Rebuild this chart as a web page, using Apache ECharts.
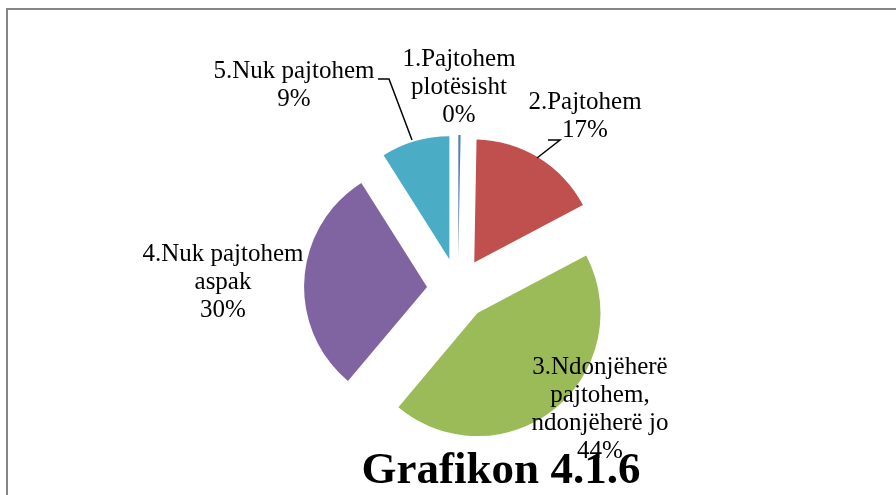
<!DOCTYPE html>
<html>
<head>
<meta charset="utf-8">
<script src="https://cdn.jsdelivr.net/npm/echarts@6/dist/echarts.min.js"></script>
<style>
html,body{margin:0;padding:0;background:#fff;}
#c{width:896px;height:495px;}
</style>
</head>
<body>
<div id="c"></div>
<script>
const categories = ['1.Pajtohem\nplotësisht', '2.Pajtohem', '3.Ndonjëherë\npajtohem,\nndonjëherë jo', '4.Nuk pajtohem\naspak', '5.Nuk pajtohem'];
const values = [0.3, 17, 44, 30, 9];
const colors = ['#4F81BD', '#C0504D', '#9BBB59', '#8064A2', '#4BACC6'];
const title = 'Grafikon 4.1.6';

// label centre positions (layout only)
const labelPos = [[459, 87], [585, 116], [600, 409], [223, 282], [294, 85]];
const leaderLines = [
  [[548, 140], [560, 140], [537, 158]],
  [[378, 79], [389, 79], [412, 140]]
];

const total = values.reduce((a, b) => a + b, 0);
const chart = echarts.init(document.getElementById('c'), null, {renderer: 'canvas'});
const data = categories.map((n, i) => ({
  name: n, value: values[i], selected: true,
  itemStyle: {color: colors[i]}
}));

const labelTexts = categories.map((n, i) => ({
  type: 'text', silent: true, z: 10,
  x: labelPos[i][0], y: labelPos[i][1],
  style: {
    text: n + '\n' + Math.round(values[i] / total * 100) + '%',
    fontFamily: 'Liberation Serif', fontSize: 25, lineHeight: 28,
    fill: '#000', align: 'center', verticalAlign: 'middle'
  }
}));
const lines = leaderLines.map(pts => ({
  type: 'polyline', silent: true, z: 10,
  shape: {points: pts},
  style: {stroke: '#000', lineWidth: 1.5, fill: 'none'}
}));

chart.setOption({
  animation: false,
  title: {
    text: title, left: 496, top: 444, textAlign: 'center',
    textStyle: {fontFamily: 'Liberation Serif', fontWeight: 'bold', fontSize: 45, color: '#000'}
  },
  graphic: [{
    type: 'rect', silent: true, z: -1,
    shape: {x: 7, y: 9, width: 1000, height: 600},
    style: {fill: 'none', stroke: '#868686', lineWidth: 2}
  }].concat(lines, labelTexts),
  series: [{
    type: 'pie',
    center: [458, 289],
    radius: [0, 123],
    startAngle: 90,
    clockwise: true,
    selectedMode: 'multiple',
    selectedOffset: 31,
    emphasis: {disabled: true},
    itemStyle: {borderWidth: 0},
    data: data,
    label: {show: false},
    labelLine: {show: false}
  }]
});
</script>
</body>
</html>
